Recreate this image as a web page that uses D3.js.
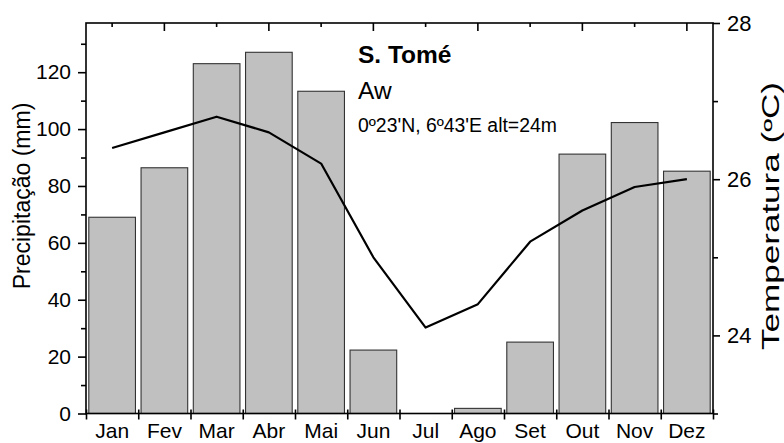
<!DOCTYPE html>
<html>
<head>
<meta charset="utf-8">
<script src="https://cdn.jsdelivr.net/npm/d3@7"></script>
<style>
  html, body { margin: 0; padding: 0; background: #fff; }
  svg { display: block; font-family: "Liberation Sans", Arial, sans-serif; }
</style>
</head>
<body>
<svg id="chart" width="784" height="443"></svg>
<script>
// ---- data ----
const months = ["Jan", "Fev", "Mar", "Abr", "Mai", "Jun", "Jul", "Ago", "Set", "Out", "Nov", "Dez"];
const precipitation = [69, 86.4, 123, 127, 113.3, 22.3, 0, 1.8, 25.1, 91.2, 102.3, 85.2];
const temperature = [26.4, 26.6, 26.8, 26.6, 26.2, 25.0, 24.1, 24.4, 25.2, 25.6, 25.9, 26.0];
const precipTicks = [0, 20, 40, 60, 80, 100, 120];
const precipMinor = [10, 30, 50, 70, 90, 110, 130];
const tempTicks = [24, 26, 28];
const tempMinor = [23, 25, 27];
const stationName = "S. Tomé";
const climateCode = "Aw";
const stationInfo = "0º23'N, 6º43'E alt=24m";
const leftTitle = "Precipitação (mm)";
const rightTitle = "Temperatura (ºC)";

// ---- layout ----
const L = 86, R = 713, T = 23, B = 413.5;
const svg = d3.select("#chart");

const x = d3.scaleBand().domain(months).range([L, R]).paddingInner(0.107).paddingOuter(0.0535);
const xc = m => x(m) + x.bandwidth() / 2;
const yP = d3.scaleLinear().domain([0, 137.3]).range([B, T]);
const yT = d3.scaleLinear().domain([23, 28]).range([B, T]);
const xEdge = d3.scaleLinear().domain([0, 12]).range([L, R]);

// bars
svg.append("g").selectAll("rect").data(months).join("rect")
  .attr("x", m => x(m))
  .attr("y", (m, i) => yP(precipitation[i]))
  .attr("width", x.bandwidth())
  .attr("height", (m, i) => B - yP(precipitation[i]))
  .attr("fill", "#c0c0c0")
  .attr("stroke", "#333")
  .attr("stroke-width", 1.1);

// temperature line
const line = d3.line().x((d, i) => xc(months[i])).y(d => yT(d));
svg.append("path").datum(temperature)
  .attr("d", line)
  .attr("fill", "none")
  .attr("stroke", "#000")
  .attr("stroke-width", 2.2)
  .attr("stroke-linejoin", "round");

// frame
svg.append("rect").attr("x", L).attr("y", T).attr("width", R - L).attr("height", B - T)
  .attr("fill", "none").attr("stroke", "#000").attr("stroke-width", 1.6);

function styleAxis(g, fontSize) {
  g.select(".domain").remove();
  g.selectAll(".tick line").attr("stroke", "#000").attr("stroke-width", 1.6);
  g.selectAll(".tick text").attr("font-size", fontSize).attr("fill", "#000")
    .attr("font-family", "'Liberation Sans', Arial, sans-serif");
}

// left axis
svg.append("g").attr("transform", `translate(${L},0)`)
  .call(d3.axisLeft(yP).tickValues(precipTicks).tickSize(8).tickPadding(7))
  .call(g => styleAxis(g, 21));
svg.append("g").attr("transform", `translate(${L},0)`)
  .call(d3.axisLeft(yP).tickValues(precipMinor).tickSize(5).tickFormat(""))
  .call(g => styleAxis(g, 21));

// right axis
svg.append("g").attr("transform", `translate(${R},0)`)
  .call(d3.axisRight(yT).tickValues(tempTicks).tickSize(7).tickPadding(7).tickFormat(d3.format("d")))
  .call(g => styleAxis(g, 22));
svg.append("g").attr("transform", `translate(${R},0)`)
  .call(d3.axisRight(yT).tickValues(tempMinor).tickSize(5).tickFormat(""))
  .call(g => styleAxis(g, 22));

// bottom axis: boundary ticks crossing the axis
svg.append("g").attr("transform", `translate(0,${B})`)
  .call(d3.axisBottom(xEdge).tickValues(d3.range(0, 13)).tickSize(6).tickFormat(""))
  .call(g => styleAxis(g, 21));
svg.append("g").attr("transform", `translate(0,${B})`)
  .call(d3.axisTop(xEdge).tickValues(d3.range(0, 13)).tickSize(4).tickFormat(""))
  .call(g => styleAxis(g, 21));
// bottom month labels
svg.append("g").attr("transform", `translate(0,${B})`)
  .call(d3.axisBottom(x).tickSize(0).tickPadding(10))
  .call(g => styleAxis(g, 21));

// top axis inward ticks
svg.append("g").attr("transform", `translate(0,${T})`)
  .call(d3.axisBottom(x).tickValues(months.filter((m, i) => i % 2 === 1)).tickSize(8).tickFormat(""))
  .call(g => styleAxis(g, 21));
svg.append("g").attr("transform", `translate(0,${T})`)
  .call(d3.axisBottom(x).tickValues(months.filter((m, i) => i % 2 === 0)).tickSize(4).tickFormat(""))
  .call(g => styleAxis(g, 21));

// axis titles
svg.append("text")
  .attr("transform", `translate(30,196) rotate(-90)`)
  .attr("text-anchor", "middle")
  .attr("font-size", 23)
  .text(leftTitle);
svg.append("text")
  .attr("transform", `translate(779,216) rotate(-90)`)
  .attr("text-anchor", "middle")
  .attr("font-size", 23)
  .attr("textLength", 268)
  .attr("lengthAdjust", "spacingAndGlyphs")
  .text(rightTitle);

// annotations
svg.append("text").attr("x", 358).attr("y", 63).attr("font-size", 24.5).attr("font-weight", "bold").text(stationName);
svg.append("text").attr("x", 358).attr("y", 99).attr("font-size", 24.5).text(climateCode);
svg.append("text").attr("x", 358).attr("y", 132).attr("font-size", 19.4).text(stationInfo);
</script>
</body>
</html>
